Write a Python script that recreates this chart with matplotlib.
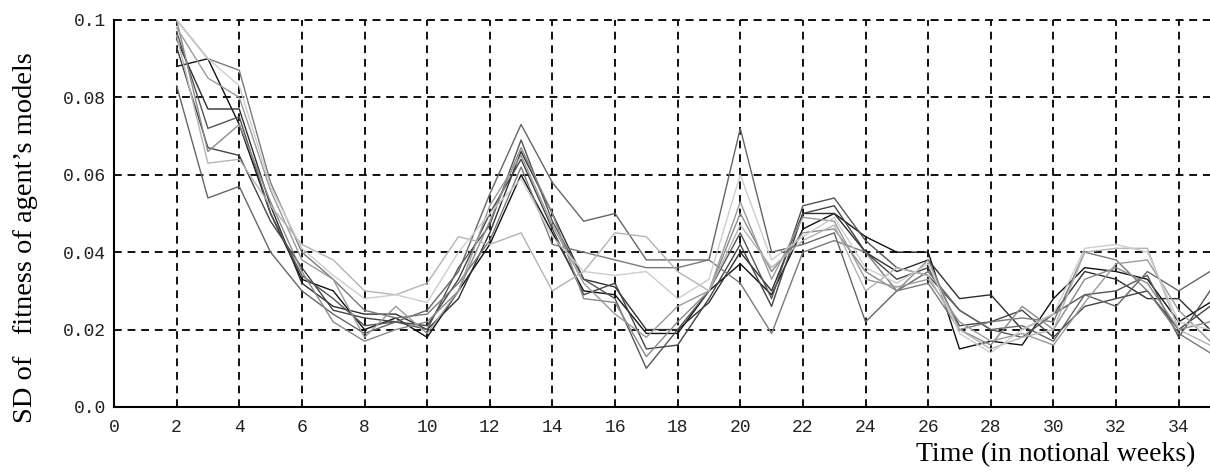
import numpy as np
import matplotlib.pyplot as plt

# semanas (eixo x)
weeks = np.arange(2, 36)

# desvio padrao da aptidao dos modelos, uma serie por execucao
run_a = [0.088, 0.090, 0.073, 0.050, 0.033, 0.030, 0.020, 0.023, 0.018, 0.030, 0.042, 0.060, 0.045, 0.030, 0.029, 0.019, 0.019,
         0.030, 0.037, 0.029, 0.046, 0.050, 0.044, 0.040, 0.040, 0.015, 0.017, 0.016, 0.028, 0.036, 0.035, 0.033, 0.022, 0.027]
run_b = [0.095, 0.077, 0.077, 0.052, 0.032, 0.026, 0.024, 0.024, 0.020, 0.028, 0.045, 0.066, 0.050, 0.033, 0.031, 0.020, 0.020,
         0.027, 0.040, 0.030, 0.050, 0.050, 0.040, 0.035, 0.038, 0.028, 0.029, 0.020, 0.024, 0.035, 0.033, 0.028, 0.028, 0.020]
run_c = [0.093, 0.067, 0.065, 0.048, 0.036, 0.025, 0.023, 0.022, 0.021, 0.033, 0.050, 0.064, 0.046, 0.029, 0.032, 0.015, 0.016,
         0.028, 0.042, 0.026, 0.050, 0.052, 0.040, 0.033, 0.036, 0.021, 0.022, 0.025, 0.018, 0.026, 0.028, 0.030, 0.020, 0.026]
run_d = [0.097, 0.072, 0.075, 0.050, 0.034, 0.028, 0.021, 0.022, 0.020, 0.036, 0.047, 0.069, 0.048, 0.033, 0.028, 0.010, 0.020,
         0.030, 0.045, 0.028, 0.052, 0.054, 0.043, 0.036, 0.034, 0.025, 0.020, 0.018, 0.024, 0.029, 0.030, 0.034, 0.018, 0.030]
run_e = [0.083, 0.054, 0.057, 0.040, 0.030, 0.024, 0.019, 0.022, 0.025, 0.035, 0.055, 0.073, 0.058, 0.048, 0.050, 0.038, 0.038,
         0.038, 0.072, 0.040, 0.042, 0.045, 0.022, 0.030, 0.035, 0.025, 0.020, 0.021, 0.017, 0.029, 0.026, 0.035, 0.030, 0.035]
run_f = [0.100, 0.090, 0.087, 0.058, 0.040, 0.033, 0.025, 0.023, 0.024, 0.032, 0.043, 0.062, 0.042, 0.040, 0.038, 0.036, 0.036,
         0.038, 0.032, 0.019, 0.040, 0.043, 0.040, 0.030, 0.032, 0.020, 0.022, 0.023, 0.022, 0.040, 0.038, 0.030, 0.019, 0.014]
run_g = [0.100, 0.066, 0.073, 0.053, 0.035, 0.022, 0.017, 0.020, 0.022, 0.030, 0.048, 0.067, 0.050, 0.028, 0.027, 0.013, 0.022,
         0.030, 0.050, 0.035, 0.045, 0.046, 0.035, 0.030, 0.038, 0.020, 0.016, 0.026, 0.020, 0.033, 0.036, 0.032, 0.020, 0.022]
run_h = [0.098, 0.085, 0.080, 0.056, 0.038, 0.033, 0.018, 0.026, 0.019, 0.030, 0.052, 0.065, 0.047, 0.032, 0.024, 0.018, 0.026,
         0.030, 0.053, 0.033, 0.049, 0.048, 0.033, 0.031, 0.033, 0.022, 0.017, 0.019, 0.016, 0.027, 0.037, 0.038, 0.025, 0.017]
run_i = [0.096, 0.063, 0.064, 0.052, 0.042, 0.038, 0.030, 0.029, 0.032, 0.044, 0.042, 0.045, 0.030, 0.035, 0.045, 0.044, 0.035,
         0.030, 0.047, 0.036, 0.043, 0.047, 0.030, 0.036, 0.034, 0.020, 0.015, 0.018, 0.020, 0.040, 0.041, 0.041, 0.020, 0.016]
run_j = [0.100, 0.090, 0.083, 0.057, 0.041, 0.034, 0.028, 0.029, 0.027, 0.040, 0.050, 0.059, 0.044, 0.035, 0.034, 0.035, 0.028,
         0.033, 0.060, 0.038, 0.044, 0.049, 0.036, 0.032, 0.037, 0.019, 0.014, 0.020, 0.024, 0.041, 0.042, 0.040, 0.022, 0.020]

runs = [run_a, run_b, run_c, run_d, run_e, run_f, run_g, run_h, run_i, run_j]
cores = ['#111111', '#2e2e2e', '#444444', '#555555', '#666666',
         '#7a7a7a', '#8a8a8a', '#9a9a9a', '#b4b4b4', '#cdcdcd']

x_ticks = list(range(0, 35, 2))
y_ticks = [0.0, 0.02, 0.04, 0.06, 0.08, 0.1]
y_labels = ['0.0', '0.02', '0.04', '0.06', '0.08', '0.1']

fig = plt.figure(figsize=(12.1, 4.76), dpi=100)
ax = fig.add_axes([0.0942, 0.145, 0.9058, 0.813])

for serie, cor in zip(runs, cores):
    ax.plot(weeks, serie, color=cor, linewidth=1.0)

ax.set_xlim(0, 35)
ax.set_ylim(0, 0.1)
ax.set_xticks(x_ticks)
ax.set_yticks(y_ticks)
ax.set_yticklabels(y_labels)

# grade tracejada preta, inclusive a linha do topo
ax.grid(True, color='#111111', linestyle=(0, (4, 3)), linewidth=1.4)
ax.axhline(0.1, color='#111111', linestyle=(0, (4, 3)), linewidth=1.4, clip_on=False)
ax.spines['top'].set_visible(False)
ax.spines['right'].set_visible(False)
ax.spines['left'].set_linewidth(1.5)
ax.spines['bottom'].set_linewidth(1.5)
ax.tick_params(axis='x', length=0, pad=9, labelsize=13)
ax.tick_params(axis='y', length=0, pad=6, labelsize=13)
for lbl in ax.get_xticklabels() + ax.get_yticklabels():
    lbl.set_family('Liberation Mono')
    lbl.set_color('#222222')

fig.text(0.021, 0.50, 'SD of   fitness of agent\u2019s models', rotation=90,
         ha='center', va='center', family='Liberation Serif', fontsize=20.5)
fig.text(0.988, 0.045, 'Time (in notional weeks)', ha='right', va='center',
         family='Liberation Serif', fontsize=20)

fig.savefig('out.png', dpi=100)
